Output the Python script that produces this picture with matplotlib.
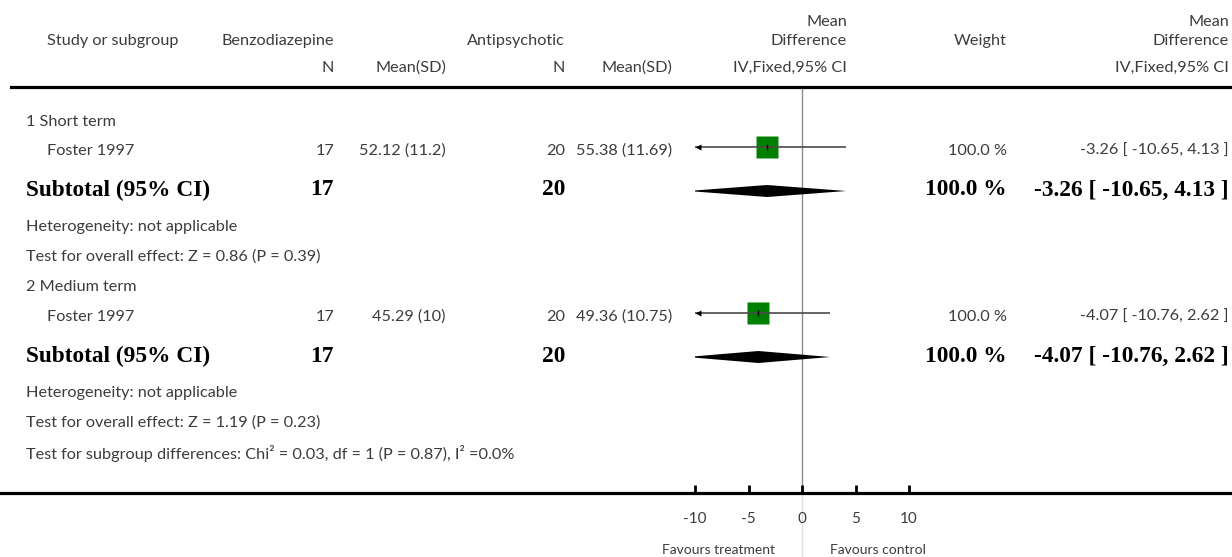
import matplotlib
matplotlib.use("Agg")
import matplotlib.pyplot as plt
from matplotlib.lines import Line2D
from matplotlib.patches import Polygon

# ---- data -----------------------------------------------------------------
groups = ["1 Short term", "2 Medium term"]
studies = ["Foster 1997", "Foster 1997"]
benzo_n = [17, 17]
benzo_mean = [52.12, 45.29]
benzo_sd = [11.2, 10]
anti_n = [20, 20]
anti_mean = [55.38, 49.36]
anti_sd = [11.69, 10.75]
md = [-3.26, -4.07]
ci_lo = [-10.65, -10.76]
ci_hi = [4.13, 2.62]
weight = [100.0, 100.0]
z_vals = [0.86, 1.19]
p_vals = [0.39, 0.23]
chi2, df_sub, p_sub, i2 = 0.03, 1, 0.87, 0.0
xticks = [-10, -5, 0, 5, 10]
favours = ["Favours treatment", "Favours control"]

# ---- figure ---------------------------------------------------------------
W, H = 1232, 557
fig = plt.figure(figsize=(W / 100, H / 100), dpi=100)

SANS = ["Lato", "DejaVu Sans"]
SERIF = ["Liberation Serif", "DejaVu Serif"]
GREY = "#3c3c3c"
FS = 11.7      # regular text size
FSB = 16.8     # bold subtotal rows


def txt(x, y, s, ha="left", bold=False, size=None):
    if bold:
        fig.text(x / W, 1 - y / H, s, ha=ha, va="center", family=SERIF,
                 weight="bold", size=size or FSB, color="black")
    else:
        fig.text(x / W, 1 - y / H, s, ha=ha, va="center", family=SANS,
                 size=size or FS, color=GREY)


# column anchors (pixels)
X_GROUP, X_STUDY = 26, 47
X_N1, X_M1, X_N2, X_M2 = 334, 446, 565, 672
X_MD, X_W, X_CI = 847, 1007, 1229

Y_HEAD_LINE, Y_AXIS = 87, 493

# header
txt(X_STUDY, 41, "Study or subgroup")
txt(X_N1, 41, "Benzodiazepine", ha="right")
txt(X_N2, 41, "Antipsychotic", ha="right")
txt(X_MD, 22, "Mean", ha="right")
txt(X_MD, 41, "Difference", ha="right")
txt(X_W, 41, "Weight", ha="right")
txt(X_CI, 22, "Mean", ha="right")
txt(X_CI, 41, "Difference", ha="right")
txt(X_N1, 68, "N", ha="right")
txt(X_M1, 68, "Mean(SD)", ha="right")
txt(X_N2, 68, "N", ha="right")
txt(X_M2, 68, "Mean(SD)", ha="right")
txt(X_MD, 68, "IV,Fixed,95% CI", ha="right")
txt(X_CI, 68, "IV,Fixed,95% CI", ha="right")

fig.add_artist(Line2D([11 / W, 1], [1 - Y_HEAD_LINE / H] * 2,
                      transform=fig.transFigure, color="black", lw=2.3))
fig.add_artist(Line2D([0, 1], [1 - Y_AXIS / H] * 2,
                      transform=fig.transFigure, color="black", lw=2.3))

# forest axes: x in mean-difference units, y in pixel rows from the top
ax = fig.add_axes([695 / W, (H - Y_AXIS) / H, (909 - 695) / W,
                   (Y_AXIS - Y_HEAD_LINE) / H])
ax.set_xlim(-10, 10)
ax.set_ylim(Y_AXIS, Y_HEAD_LINE)
for s in ax.spines.values():
    s.set_visible(False)
ax.set_yticks([])
ax.set_xticks(xticks)
ax.set_xticklabels([str(t) for t in xticks], family=SANS, size=11, color=GREY)
ax.tick_params(axis="x", direction="in", length=6, width=2, pad=14,
               color="black")
ax.patch.set_alpha(0)

ax.axvline(0, color="#8a8a8a", lw=1, zorder=1)
ax.plot([0, 0], [Y_AXIS, H], color="#dedede", lw=1, clip_on=False, zorder=1)

# row layout per subgroup: group title, study, subtotal, heterogeneity, test
row_y = [(122, 151, 190, 227, 257), (287, 317, 356, 393, 423)]
Y_SUBGROUP_TEST = 453

for i in range(len(groups)):
    y_grp, y_st, y_sub, y_het, y_test = row_y[i]
    txt(X_GROUP, y_grp, groups[i])
    txt(X_STUDY, y_st, studies[i])
    txt(X_N1, y_st, f"{benzo_n[i]}", ha="right")
    txt(X_M1, y_st, f"{benzo_mean[i]:g} ({benzo_sd[i]:g})", ha="right")
    txt(X_N2, y_st, f"{anti_n[i]}", ha="right")
    txt(X_M2, y_st, f"{anti_mean[i]:g} ({anti_sd[i]:g})", ha="right")
    txt(X_W, y_st, f"{weight[i]:.1f} %", ha="right")
    txt(X_CI, y_st, f"{md[i]:.2f} [ {ci_lo[i]:.2f}, {ci_hi[i]:.2f} ]", ha="right")

    txt(X_GROUP, y_sub, "Subtotal (95% CI)", bold=True)
    txt(X_N1, y_sub, f"{benzo_n[i]}", ha="right", bold=True)
    txt(X_N2, y_sub, f"{anti_n[i]}", ha="right", bold=True)
    txt(X_W, y_sub, f"{weight[i]:.1f} %", ha="right", bold=True)
    txt(X_CI, y_sub, f"{md[i]:.2f} [ {ci_lo[i]:.2f}, {ci_hi[i]:.2f} ]",
        ha="right", bold=True)

    txt(X_GROUP, y_het, "Heterogeneity: not applicable")
    txt(X_GROUP, y_test,
        f"Test for overall effect: Z = {z_vals[i]:.2f} (P = {p_vals[i]:.2f})")

    # study estimate: weighted square, CI line, arrow when CI leaves the scale
    ym = y_st - 4
    ax.plot(md[i], ym, marker="s", ms=16, color="#008000", mec="none", zorder=2)
    lo, hi = max(ci_lo[i], -10), min(ci_hi[i], 10)
    ax.plot([lo, hi], [ym, ym], color="#4a4a4a", lw=1.2, zorder=3,
            solid_capstyle="butt")
    if ci_lo[i] < -10:
        ax.plot(-9.75, ym, marker="<", ms=5, color="black", mec="none", zorder=4)
    if ci_hi[i] > 10:
        ax.plot(9.75, ym, marker=">", ms=5, color="black", mec="none", zorder=4)
    ax.plot(md[i], ym, marker="|", ms=4, mew=1, color="black", zorder=4)

    # pooled diamond
    yd = y_sub + 1
    ax.add_patch(Polygon([(ci_lo[i], yd), (md[i], yd - 6), (ci_hi[i], yd),
                          (md[i], yd + 6)], closed=True, color="black",
                         lw=0, zorder=3))

txt(X_GROUP, Y_SUBGROUP_TEST,
    f"Test for subgroup differences: Chi² = {chi2:.2f}, df = {df_sub} "
    f"(P = {p_sub:.2f}), I² ={i2:.1f}%")

txt(718, 550, favours[0], ha="center", size=10)
txt(878, 550, favours[1], ha="center", size=10)

fig.savefig("out.png", dpi=100)
